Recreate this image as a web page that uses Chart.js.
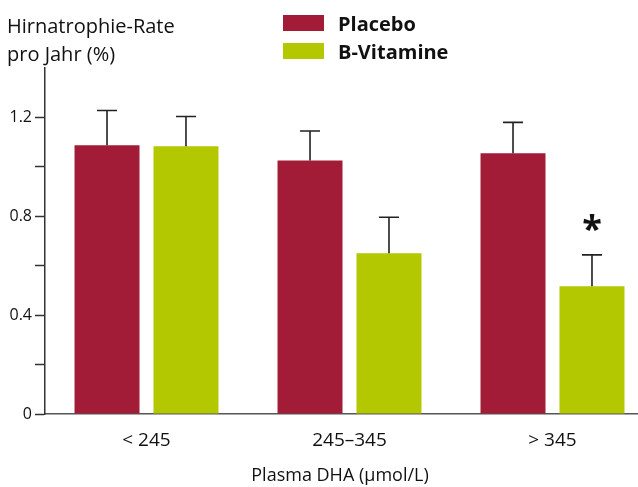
<!DOCTYPE html>
<html>
<head>
<meta charset="utf-8">
<script src="https://cdn.jsdelivr.net/npm/chart.js@4.4.0/dist/chart.umd.min.js"></script>
<style>
  html, body { margin: 0; padding: 0; width: 638px; height: 487px; overflow: hidden; background: #fff; }
  #wrap { position: relative; width: 660px; height: 487px; }
  .ytitle { position: absolute; left: 7px; top: 12px; font: 20px "Open Sans", sans-serif; line-height: 28px; color: #111; }
  .xtitle { position: absolute; left: 220px; width: 240px; top: 463px; text-align: center; font: 18px "Open Sans", sans-serif; line-height: 22px; color: #111; }
  .legend { position: absolute; left: 283px; top: 9px; font: bold 20px "Open Sans", sans-serif; color: #111; }
  .legend div { display: flex; align-items: center; height: 28px; }
  .legend span.box { display: inline-block; width: 41px; height: 16px; margin-right: 14px; }
</style>
</head>
<body>
<div id="wrap">
  <canvas id="chart" width="660" height="487"></canvas>
  <div class="ytitle">Hirnatrophie-Rate<br>pro Jahr (%)</div>
  <div class="legend">
    <div><span class="box" style="background:#A31C37"></span>Placebo</div>
    <div><span class="box" style="background:#B4C800"></span>B-Vitamine</div>
  </div>
  <div class="xtitle">Plasma DHA (µmol/L)</div>
</div>
<script>
const categories = ['< 245', '245\u2013345', '> 345'];
const placebo = [1.087, 1.026, 1.055];
const placeboErr = [0.141, 0.119, 0.125];
const vitamin = [1.083, 0.65, 0.517];
const vitaminErr = [0.121, 0.146, 0.127];
const yTicks = [0, 0.4, 0.8, 1.2];

// 1. Error bars (upper only) + significance star
const errorBars = {
    id: 'errorBars',
    afterDatasetsDraw(chart) {
        const ctx = chart.ctx;
        const y = chart.scales.y;
        const errs = [placeboErr, vitaminErr];
        ctx.save();
        ctx.strokeStyle = '#222';
        ctx.lineWidth = 1.6;
        chart.data.datasets.forEach((ds, di) => {
            chart.getDatasetMeta(di).data.forEach((bar, i) => {
                const top = y.getPixelForValue(ds.data[i] + errs[di][i]);
                ctx.beginPath();
                ctx.moveTo(bar.x, bar.y);
                ctx.lineTo(bar.x, top);
                ctx.moveTo(bar.x - 10, top);
                ctx.lineTo(bar.x + 10, top);
                ctx.stroke();
                if (di === 1 && i === 2) {
                    ctx.fillStyle = '#111';
                    ctx.font = 'bold 36px "Open Sans", sans-serif';
                    ctx.textAlign = 'center';
                    ctx.textBaseline = 'middle';
                    ctx.fillText('*', bar.x, top - 24);
                }
            });
        });
        ctx.restore();
    }
};

new Chart(document.getElementById('chart').getContext('2d'), {
    type: 'bar',
    data: {
        labels: categories,
        datasets: [
            { label: 'Placebo', data: placebo, backgroundColor: '#A31C37' },
            { label: 'B-Vitamine', data: vitamin, backgroundColor: '#B4C800' }
        ]
    },
    options: {
        responsive: false,
        animation: false,
        events: [],
        categoryPercentage: 0.778,
        barPercentage: 0.823,
        layout: { padding: { top: 68, right: 6, left: 0, bottom: 0 } },
        plugins: { legend: { display: false }, tooltip: { enabled: false } },
        scales: {
            x: {
                grid: { display: false },
                border: { display: true, color: '#555', width: 1.5 },
                ticks: { color: '#111', font: { family: 'Open Sans', size: 19 }, padding: 7 },
                afterFit: s => { s.height = 73; }
            },
            y: {
                min: 0, max: 1.4,
                ticks: {
                    stepSize: 0.2,
                    color: '#111',
                    font: { family: 'Open Sans', size: 16 },
                    padding: 3,
                    callback: v => yTicks.some(t => Math.abs(t - v) < 1e-6) ? String(+v.toFixed(1)) : ''
                },
                grid: {
                    drawOnChartArea: false,
                    tickLength: 10,
                    tickWidth: 1.5,
                    color: ctx => (ctx.tick && ctx.tick.value > 1.3) ? 'rgba(0,0,0,0)' : '#333'
                },
                border: { display: true, color: '#333', width: 1.5 },
                afterFit: s => { s.width = 45; }
            }
        }
    },
    plugins: [errorBars]
});
</script>
</body>
</html>
